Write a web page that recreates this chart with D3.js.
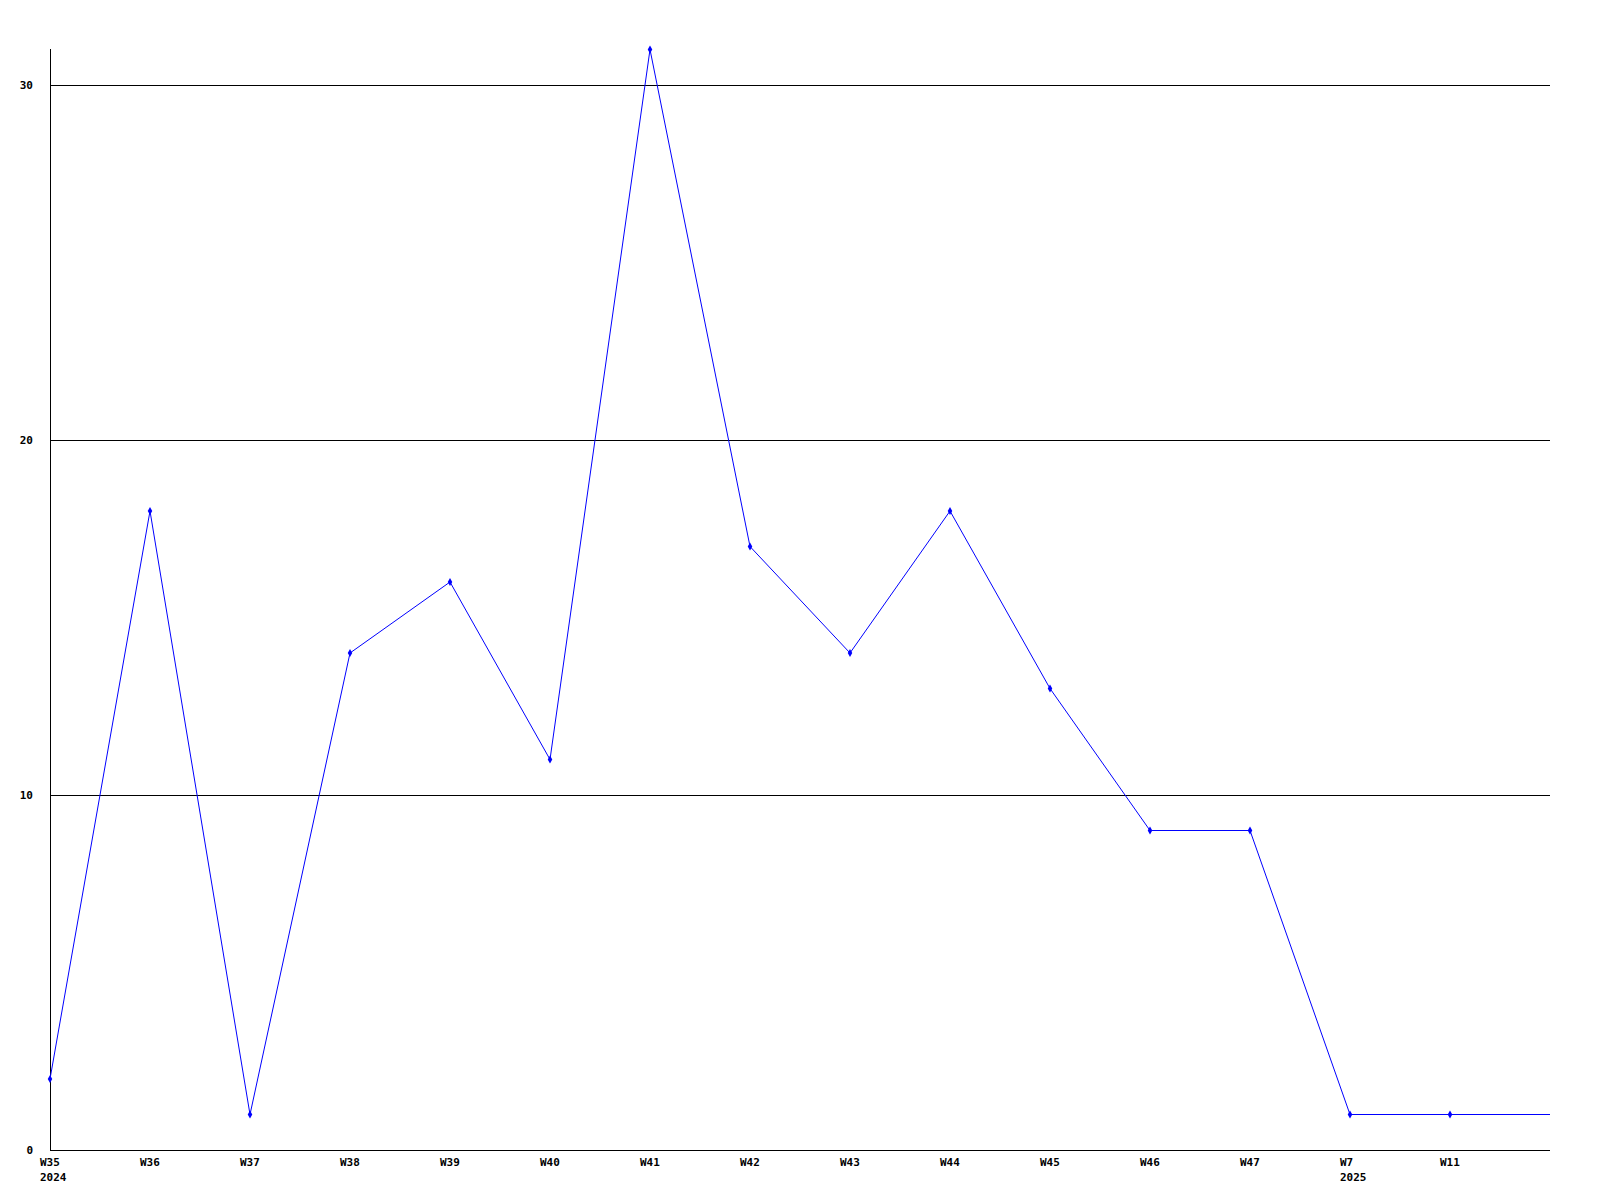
<!DOCTYPE html>
<html><head><meta charset="utf-8">
<script src="https://cdn.jsdelivr.net/npm/d3@7"></script>
<style>body{margin:0;background:#fff}svg{display:block}text{font-family:"DejaVu Sans Mono",monospace;font-weight:bold;font-size:11px;fill:#000}</style>
</head><body>
<script>
const weeks = ["W35","W36","W37","W38","W39","W40","W41","W42","W43","W44","W45","W46","W47","W7","W11",""];
const years = ["2024","","","","","","","","","","","","","2025","",""];
const values = [2,18,1,14,16,11,31,17,14,18,13,9,9,1,1,1];
const yTicks = [0,10,20,30];

const W=1600,H=1200;
const svg=d3.select("body").append("svg").attr("width",W).attr("height",H);
const x=d3.scaleLinear().domain([0,15]).range([50,1550]);
const y=d3.scaleLinear().domain([0,31]).range([1150,49.5]);

// gridlines
svg.selectAll("line.grid").data(yTicks.filter(d=>d>0)).enter().append("line")
  .attr("x1",50).attr("x2",1550).attr("y1",d=>Math.round(y(d))+0.5).attr("y2",d=>Math.round(y(d))+0.5)
  .attr("stroke","#000").attr("stroke-width",1);
// axes
svg.append("line").attr("x1",50.5).attr("x2",50.5).attr("y1",49).attr("y2",1150).attr("stroke","#000");
svg.append("line").attr("x1",50).attr("x2",1550).attr("y1",1150.5).attr("y2",1150.5).attr("stroke","#000");

// y labels
svg.selectAll("text.yl").data(yTicks).enter().append("text")
  .attr("x",33).attr("y",d=>Math.round(y(d))+4).attr("text-anchor","end").text(d=>d);

// x labels
weeks.forEach((w,i)=>{
  if(w) svg.append("text").attr("x",x(i)-10).attr("y",1166).text(w);
  if(years[i]) svg.append("text").attr("x",x(i)-10).attr("y",1181).text(years[i]);
});

// line
const line=d3.line().x((d,i)=>x(i)).y(d=>y(d));
svg.append("path").datum(values).attr("d",line).attr("fill","none").attr("stroke","#0000ff").attr("stroke-width",1);

// markers
const pts=values.map((v,i)=>({v,i})).filter(d=>weeks[d.i]);
svg.selectAll("path.m").data(pts).enter().append("path")
  .attr("d",d3.symbol().type(d3.symbolDiamond).size(18))
  .attr("transform",d=>`translate(${x(d.i)},${y(d.v)})`)
  .attr("fill","#0000ff");
</script>
</body></html>
